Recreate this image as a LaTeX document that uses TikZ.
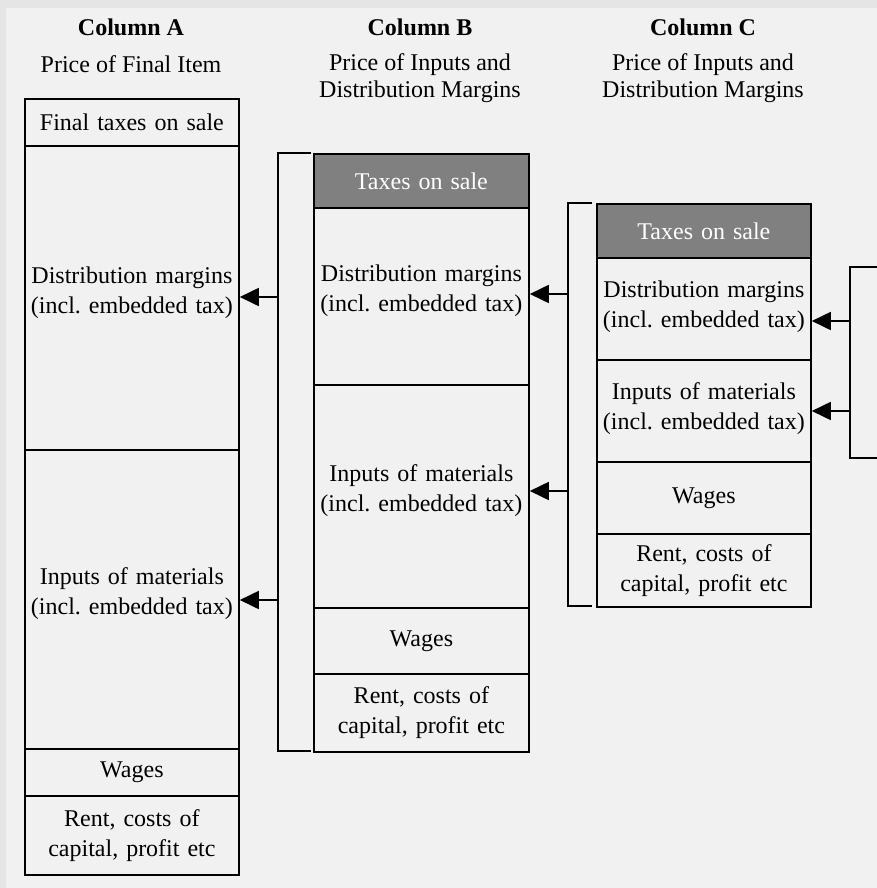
\documentclass[tikz,border=0pt]{standalone}
\usepackage{fontspec}
\setmainfont{Liberation Serif}
\usetikzlibrary{arrows.meta}
\definecolor{outerbg}{HTML}{E5E5E5}
\definecolor{innerbg}{HTML}{F1F1F1}
\definecolor{taxgray}{HTML}{808080}
\frenchspacing
\begin{document}
\begin{tikzpicture}[x=1pt,y=-1pt,
  every node/.style={font=\fontsize{24}{30}\selectfont},
  cell/.style={draw,line width=1.8pt,anchor=north west,inner sep=0pt,
    align=center,text width=#1},
  cell/.default=214pt,
  taxcell/.style={cell=#1,fill=taxgray,text=white},
  taxcell/.default=214pt,
  head/.style={font=\fontsize{24}{30}\selectfont\bfseries},
  sub/.style={align=center,font=\fontsize{24}{26.5}\selectfont},
  brk/.style={line width=1.8pt},
  arr/.style={line width=1.8pt,-{Triangle[length=19pt,width=18pt]}}
]
\useasboundingbox (0,0) rectangle (877,888);
\fill[outerbg] (0,0) rectangle (877,888);
\fill[innerbg] (6,8) rectangle (877,888);
\clip (0,0) rectangle (877,888);

% Headers
\node[head] (hA) at (131,27) {Column A};
\node[sub] (sA) at (131,64) {Price of Final Item};
\node[head] (hB) at (420,27) {Column B};
\node[sub] (sB) at (420,78) {Price of Inputs and\\Distribution Margins};
\node[head] (hC) at (703,27) {Column C};
\node[sub] (sC) at (703,78) {Price of Inputs and\\Distribution Margins};

% Column A
\node[cell, minimum height=47pt] (A0) at (24,98) {Final taxes on sale};
\node[cell, minimum height=304pt] (A1) at (24,145) {Distribution margins\\(incl. embedded tax)\\[-14pt]\mbox{}};
\node[cell, minimum height=299pt] (A2) at (24,449) {Inputs of materials\\(incl. embedded tax)\\[-14pt]\mbox{}};
\node[cell, minimum height=47pt] (A3) at (24,748) {Wages};
\node[cell, minimum height=79pt] (A4) at (24,795) {Rent, costs of\\capital, profit etc};

% Column B
\node[taxcell=215pt, minimum height=54pt] (B0) at (313,153) {Taxes on sale};
\node[cell=215pt, minimum height=177pt] (B1) at (313,207) {Distribution margins\\(incl. embedded tax)\\[-14pt]\mbox{}};
\node[cell=215pt, minimum height=223pt] (B2) at (313,384) {Inputs of materials\\(incl. embedded tax)\\[-14pt]\mbox{}};
\node[cell=215pt, minimum height=66pt] (B3) at (313,607) {Wages};
\node[cell=215pt, minimum height=78pt] (B4) at (313,673) {Rent, costs of\\capital, profit etc};

% Column C
\node[taxcell, minimum height=54pt] (C0) at (596,203) {Taxes on sale};
\node[cell, minimum height=102pt] (C1) at (596,257) {Distribution margins\\(incl. embedded tax)\\[-20pt]\mbox{}};
\node[cell, minimum height=102pt] (C2) at (596,359) {Inputs of materials\\(incl. embedded tax)\\[-20pt]\mbox{}};
\node[cell, minimum height=72pt] (C3) at (596,461) {Wages};
\node[cell, minimum height=73pt] (C4) at (596,533) {Rent, costs of\\capital, profit etc};

% Bracket B
\coordinate (bBt) at (278,153);
\coordinate (bBb) at (278,751);
\draw[brk] (311,153) -- (bBt) -- (bBb) -- (311,751);
\coordinate (bB1) at (278,297);
\coordinate (bB2) at (278,600);
\draw[arr] (bB1) -- (A1.east |- bB1);
\draw[arr] (bB2) -- (A2.east |- bB2);

% Bracket C
\coordinate (bCt) at (568,203);
\coordinate (bCb) at (568,606);
\draw[brk] (592,203) -- (bCt) -- (bCb) -- (592,606);
\coordinate (bC1) at (568,294);
\coordinate (bC2) at (568,491);
\draw[arr] (bC1) -- (B1.east |- bC1);
\draw[arr] (bC2) -- (B2.east |- bC2);

% Bracket D (right, partly cut)
\coordinate (bDt) at (850,267);
\coordinate (bDb) at (850,458);
\draw[brk] (890,267) -- (bDt) -- (bDb) -- (890,458);
\coordinate (bD1) at (850,321);
\coordinate (bD2) at (850,411);
\draw[arr] (bD1) -- (C1.east |- bD1);
\draw[arr] (bD2) -- (C2.east |- bD2);
\end{tikzpicture}
\end{document}
